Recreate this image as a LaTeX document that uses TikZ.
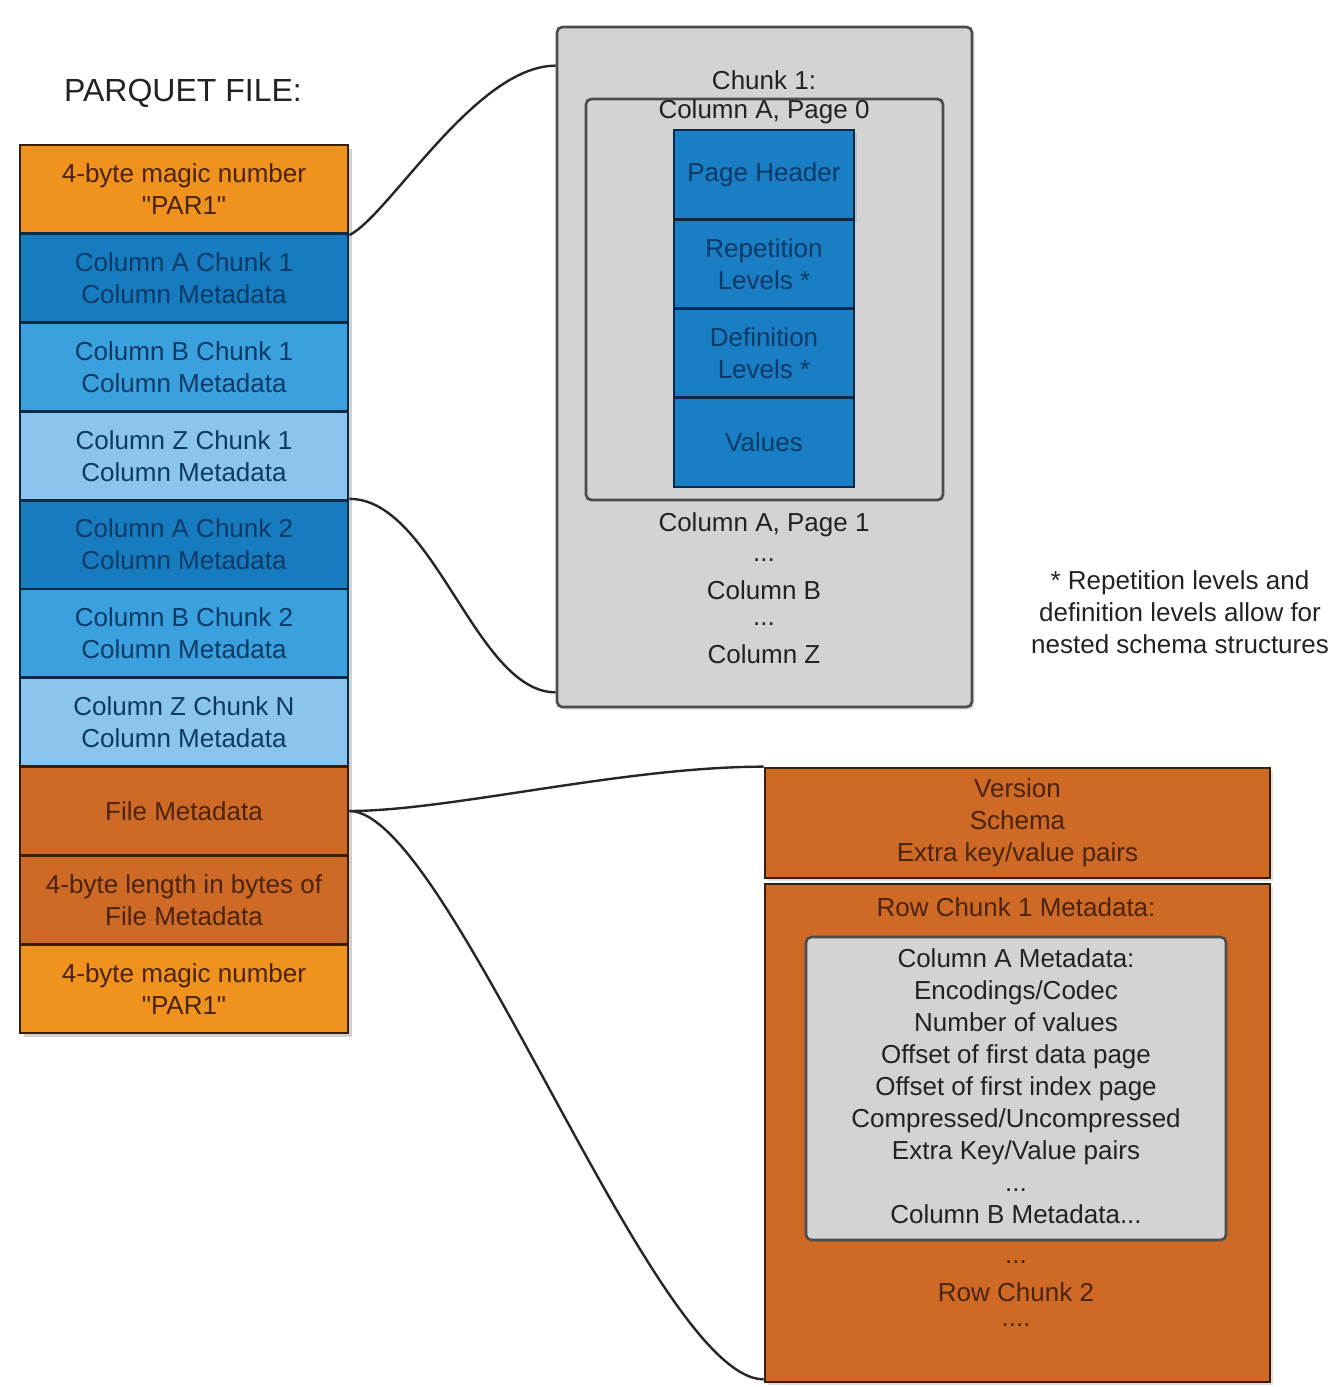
\documentclass[tikz,border=0pt]{standalone}
\usepackage{fontspec}
\setmainfont{Liberation Sans}
\newfontfamily\qfont{Liberation Sans}
\usetikzlibrary{calc,shadows}
\definecolor{magic}{HTML}{F0921E}
\definecolor{fmeta}{HTML}{CF6A26}
\definecolor{blueA}{HTML}{177BBF}
\definecolor{blueB}{HTML}{3AA0DE}
\definecolor{blueZ}{HTML}{8BC4EC}
\definecolor{stackblue}{HTML}{1A7EC4}
\definecolor{boxgray}{HTML}{D3D3D3}
\definecolor{brownline}{HTML}{3A1E08}
\definecolor{navyline}{HTML}{0B2A48}
\definecolor{browntext}{HTML}{4A2308}
\definecolor{navytext}{HTML}{0B3A66}
\definecolor{graytext}{HTML}{222222}
\newcommand{\sq}{{\qfont"}}
\begin{document}
\begin{tikzpicture}[x=0.75pt,y=-0.75pt,
  every node/.style={font=\fontsize{19.5}{24}\selectfont, align=center, inner sep=0pt},
  cell/.style={rectangle, minimum width=246pt, minimum height=66.6pt, line width=2pt},
  orangecell/.style={cell, fill=magic, draw=brownline, text=browntext},
  fmcell/.style={cell, fill=fmeta, draw=brownline, text=browntext},
  bluecellA/.style={cell, fill=blueA, draw=navyline, text=navytext},
  bluecellB/.style={cell, fill=blueB, draw=navyline, text=navytext},
  bluecellZ/.style={cell, fill=blueZ, draw=navyline, text=navytext},
  stackcell/.style={rectangle, minimum width=135pt, minimum height=66.9pt, fill=stackblue, draw=navyline, line width=2pt, text=navytext},
  graybox/.style={rectangle, rounded corners=4pt, fill=boxgray, draw=black!70, line width=2pt},
  orangebox/.style={rectangle, fill=fmeta, draw=brownline, line width=2pt},
  plain/.style={text=graytext},
  link/.style={draw=black!85, line width=1.8pt},
  shade/.style={drop shadow={shadow xshift=2pt, shadow yshift=-2pt, opacity=0.25}}
]
\useasboundingbox (0,0) rectangle (1335,1387);

% title
\node[plain, font=\fontsize{24}{28}\selectfont] (title) at (183,93) {PARQUET FILE:};

% left column
\fill[black, opacity=0.18] (24,149) rectangle (352,1037);
\node[orangecell] (r1)  at (184,189.4) {4-byte magic number\\\sq PAR1\sq};
\node[bluecellA]  (r2)  at (184,278.2) {Column A Chunk 1\\Column Metadata};
\node[bluecellB]  (r3)  at (184,367.0) {Column B Chunk 1\\Column Metadata};
\node[bluecellZ]  (r4)  at (184,455.8) {Column Z Chunk 1\\Column Metadata};
\node[bluecellA]  (r5)  at (184,544.6) {Column A Chunk 2\\Column Metadata};
\node[bluecellB]  (r6)  at (184,633.4) {Column B Chunk 2\\Column Metadata};
\node[bluecellZ]  (r7)  at (184,722.2) {Column Z Chunk N\\Column Metadata};
\node[fmcell]     (r8)  at (184,811.0) {File Metadata};
\node[fmcell]     (r9)  at (184,899.8) {4-byte length in bytes of\\File Metadata};
\node[orangecell] (r10) at (184,988.6) {4-byte magic number\\\sq PAR1\sq};

% chunk detail
\node[graybox, shade, minimum width=311.25pt, minimum height=510pt] (chunk) at (764.5,367) {};
\node[plain] (chunkt) at (764,80) {Chunk 1:};
\node[graybox, minimum width=267.75pt, minimum height=300.75pt] (page) at (764.5,299.5) {};
\node[plain] (paget) at (764,112) {Column A, Page 0};
\node[stackcell, shade] (s1) at (764,174.6) {Page Header};
\node[stackcell] (s2) at (764,263.9) {Repetition\\Levels *};
\node[stackcell] (s3) at (764,353.1) {Definition\\Levels *};
\node[stackcell] (s4) at (764,442.4) {Values};
\node[plain] (p1) at (764,525) {Column A, Page 1};
\node[plain] (d1) at (764,560) {...};
\node[plain] (cb) at (764,590) {Column B};
\node[plain] (d2) at (764,624) {...};
\node[plain] (cz) at (764,654) {Column Z};

% footnote
\node[plain] (note) at (1180,612) {* Repetition levels and\\definition levels allow for\\nested schema structures};

% file metadata detail
\node[orangebox, shade, minimum width=378.75pt, minimum height=82.5pt, text=browntext] (version) at (1017.5,823) {Version\\Schema\\Extra key/value pairs};
\node[orangebox, shade, minimum width=378.75pt, minimum height=373.5pt] (rowchunk) at (1017.5,1133) {};
\node[text=browntext] (rct) at (1016,907) {Row Chunk 1 Metadata:};
\node[graybox, minimum width=315pt, minimum height=227.25pt] (colmeta) at (1016,1088.5) {};
\node[plain] (cmt) at (1016,1086) {Column A Metadata:\\Encodings/Codec\\Number of values\\Offset of first data page\\Offset of first index page\\Compressed/Uncompressed\\Extra Key/Value pairs\\...\\Column B Metadata...};
\node[text=browntext] (d3) at (1016,1262) {...};
\node[text=browntext] (rc2) at (1016,1292) {Row Chunk 2};
\node[text=browntext] (d4) at (1016,1325) {....};

% connectors
\draw[link] (r1.south east) .. controls +(40,-20) and +(-80,0) .. ($(chunk.north west)+(0,40)$);
\draw[link] (r5.north east) .. controls +(85,0) and +(-80,0) .. ($(chunk.south west)+(0,-16)$);
\draw[link] (r8.east) .. controls +(100,0) and +(-140,0) .. (version.north west);
\draw[link] (r8.east) .. controls +(100,0) and +(-110,0) .. ($(rowchunk.south west)+(0,-4)$);
\end{tikzpicture}
\end{document}
